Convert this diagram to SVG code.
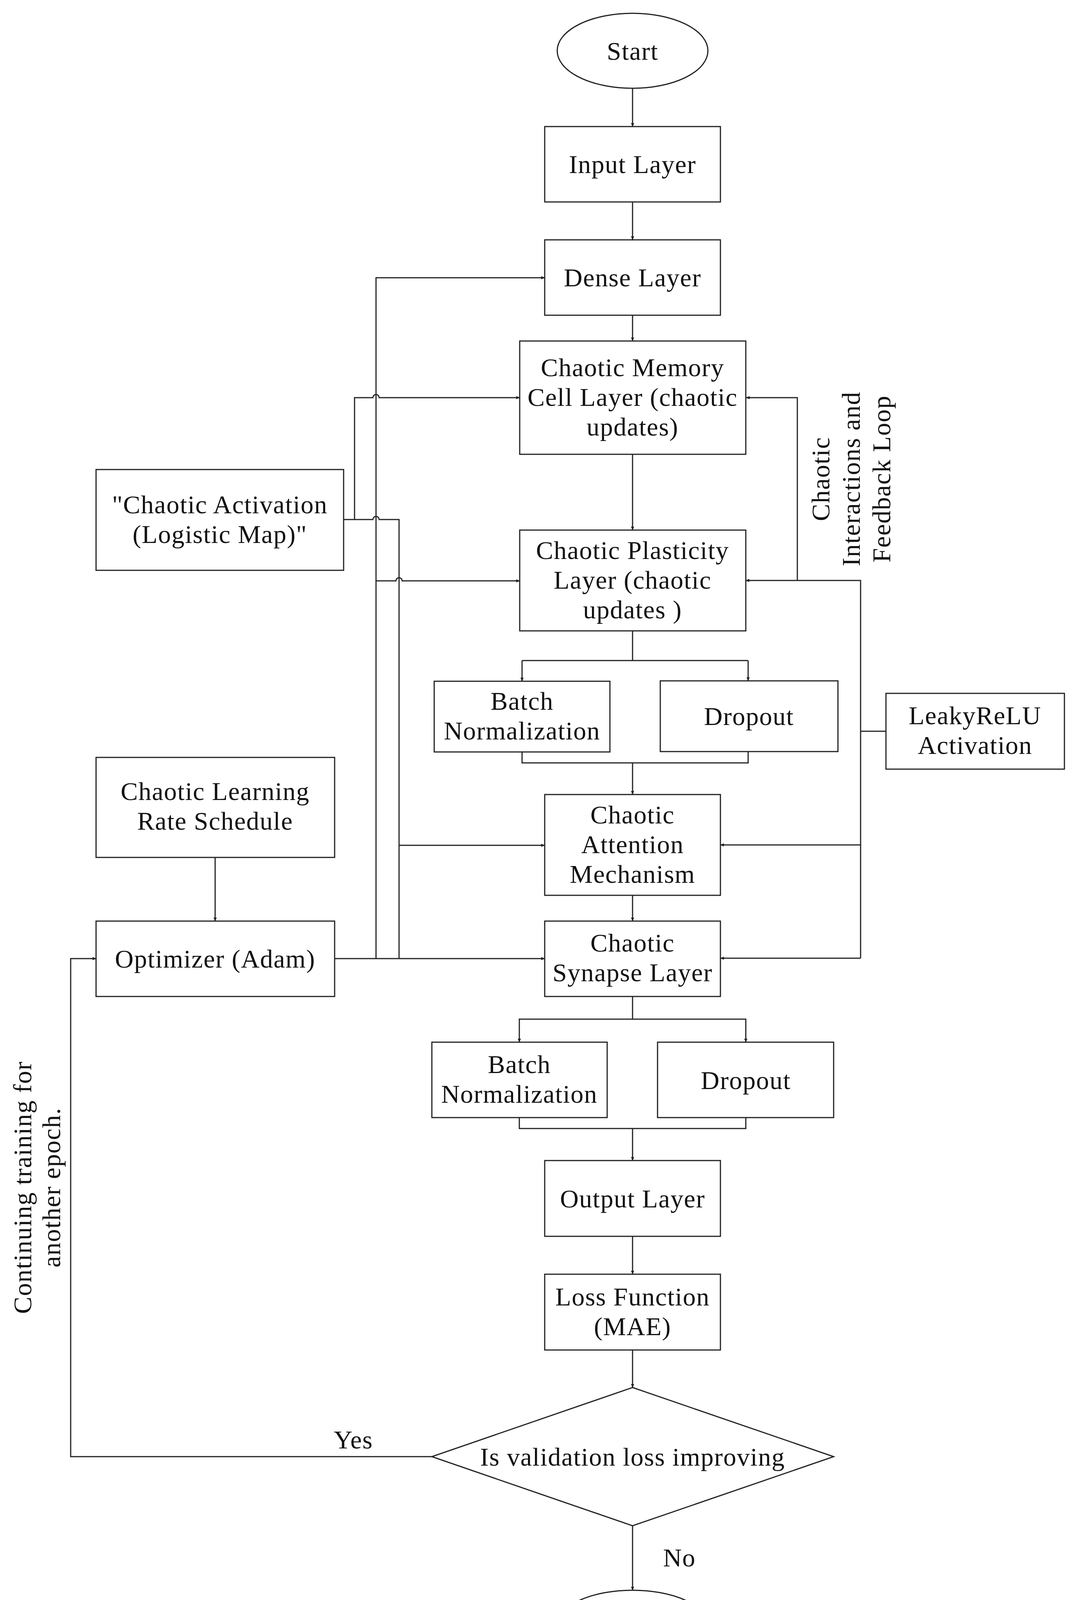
<svg xmlns="http://www.w3.org/2000/svg" width="2748" height="4259" viewBox="0 0 2748 4259">
<style>
.n{fill:#fff;stroke:#222;stroke-width:3}
.c{fill:none;stroke:#222;stroke-width:3}
text{font-family:"Liberation Serif","DejaVu Serif",serif;font-size:66px;letter-spacing:1.5px;fill:#111;text-anchor:middle}
</style>
<defs><marker id="a" markerWidth="10" markerHeight="8" refX="9" refY="4" orient="auto" markerUnits="userSpaceOnUse"><path d="M0,0 L10,4 L0,8 Z" fill="#222"/></marker></defs>
<rect width="2748" height="4259" fill="#fff"/>
<g id="connectors">
<path class="c" d="M1620,226 V324" marker-end="url(#a)"/>
<path class="c" d="M1620,517 V614" marker-end="url(#a)"/>
<path class="c" d="M1620,807 V873" marker-end="url(#a)"/>
<path class="c" d="M1620,1163 V1357" marker-end="url(#a)"/>
<path class="c" d="M1620,1615 V1691 M1337,1691 H1916"/>
<path class="c" d="M1337,1691 V1744" marker-end="url(#a)"/>
<path class="c" d="M1916,1691 V1743" marker-end="url(#a)"/>
<path class="c" d="M1337,1925 V1953 H1916 V1925 M1620,1953 V2034" marker-end="url(#a)"/>
<path class="c" d="M1620,2292 V2358" marker-end="url(#a)"/>
<path class="c" d="M1620,2551 V2609 H1330 V2668" marker-end="url(#a)"/>
<path class="c" d="M1620,2609 H1910 V2668" marker-end="url(#a)"/>
<path class="c" d="M1330,2861 V2889 H1910 V2861 M1620,2889 V2971" marker-end="url(#a)"/>
<path class="c" d="M1620,3165 V3262" marker-end="url(#a)"/>
<path class="c" d="M1620,3456 V3552" marker-end="url(#a)"/>
<path class="c" d="M1620,3906 V4071" marker-end="url(#a)"/>
<path class="c" d="M1106,3729 H181 V2454 H246" marker-end="url(#a)"/>
<path class="c" d="M551,2195 V2358" marker-end="url(#a)"/>
<path class="c" d="M857,2454 H1395" marker-end="url(#a)"/>
<path class="c" d="M963,2454 V711 H1395" marker-end="url(#a)"/>
<path class="c" d="M1022,2454 V1330 H971 A8,8 0 0 0 955,1330 H880"/>
<path class="c" d="M908,1330 V1018 H955 A8,8 0 0 1 971,1018 H1331" marker-end="url(#a)"/>
<path class="c" d="M963,1487 H1014 A8,8 0 0 1 1030,1487 H1331" marker-end="url(#a)"/>
<path class="c" d="M1022,2164 H1395" marker-end="url(#a)"/>
<path class="c" d="M2204,2453 V1486 H1910" marker-end="url(#a)"/>
<path class="c" d="M2042,1486 V1018 H1911" marker-end="url(#a)"/>
<path class="c" d="M2204,2163 H1845" marker-end="url(#a)"/>
<path class="c" d="M2204,2453 H1845" marker-end="url(#a)"/>
<path class="c" d="M2204,1872 H2269"/>
</g>
<g id="start"><ellipse class="n" cx="1620" cy="130" rx="193" ry="96"/><text x="1620" y="153">Start</text></g>
<g id="input"><rect class="n" x="1395" y="324" width="450" height="193"/><text x="1620" y="443">Input Layer</text></g>
<g id="dense"><rect class="n" x="1395" y="614" width="450" height="193"/><text x="1620" y="733">Dense Layer</text></g>
<g id="memory"><rect class="n" x="1331" y="873" width="579" height="290"/><text x="1620" y="963">Chaotic Memory</text><text x="1620" y="1039">Cell Layer (chaotic</text><text x="1620" y="1115">updates)</text></g>
<g id="activation"><rect class="n" x="246" y="1202" width="634" height="258"/><text x="563" y="1314">"Chaotic Activation</text><text x="563" y="1390">(Logistic Map)"</text></g>
<g id="plasticity"><rect class="n" x="1331" y="1357" width="579" height="258"/><text x="1620" y="1431">Chaotic Plasticity</text><text x="1620" y="1507">Layer (chaotic</text><text x="1620" y="1583">updates )</text></g>
<g id="bn1"><rect class="n" x="1112" y="1744" width="450" height="181"/><text x="1337" y="1817">Batch</text><text x="1337" y="1893">Normalization</text></g>
<g id="do1"><rect class="n" x="1691" y="1743" width="455" height="181"/><text x="1918" y="1856">Dropout</text></g>
<g id="leaky"><rect class="n" x="2269" y="1775" width="457" height="194"/><text x="2497" y="1854">LeakyReLU</text><text x="2497" y="1930">Activation</text></g>
<g id="lr"><rect class="n" x="246" y="1939" width="611" height="256"/><text x="551" y="2048">Chaotic Learning</text><text x="551" y="2124">Rate Schedule</text></g>
<g id="attention"><rect class="n" x="1395" y="2034" width="450" height="258"/><text x="1620" y="2108">Chaotic</text><text x="1620" y="2184">Attention</text><text x="1620" y="2260">Mechanism</text></g>
<g id="optimizer"><rect class="n" x="246" y="2358" width="611" height="193"/><text x="551" y="2477">Optimizer (Adam)</text></g>
<g id="synapse"><rect class="n" x="1395" y="2358" width="450" height="193"/><text x="1620" y="2436">Chaotic</text><text x="1620" y="2512">Synapse Layer</text></g>
<g id="bn2"><rect class="n" x="1106" y="2668" width="449" height="193"/><text x="1330" y="2747">Batch</text><text x="1330" y="2823">Normalization</text></g>
<g id="do2"><rect class="n" x="1684" y="2668" width="451" height="193"/><text x="1910" y="2788">Dropout</text></g>
<g id="output"><rect class="n" x="1395" y="2971" width="450" height="194"/><text x="1620" y="3091">Output Layer</text></g>
<g id="loss"><rect class="n" x="1395" y="3262" width="450" height="194"/><text x="1620" y="3342">Loss Function</text><text x="1620" y="3418">(MAE)</text></g>
<g id="decision"><polygon class="n" points="1620,3552 2135,3729 1620,3906 1106,3729"/><text x="1620" y="3752">Is validation loss improving</text></g>
<g id="end"><ellipse class="n" cx="1620" cy="4157" rx="190" ry="86"/><text x="1620" y="4180">End</text></g>
<g id="labels">
<text x="905" y="3708">Yes</text>
<text x="1740" y="4010">No</text>
<text transform="translate(80,3040) rotate(-90)">Continuing training for</text>
<text transform="translate(154,3040) rotate(-90)">another epoch.</text>
<text transform="translate(2124,1226) rotate(-90)">Chaotic</text>
<text transform="translate(2202,1226) rotate(-90)">Interactions and</text>
<text transform="translate(2280,1226) rotate(-90)">Feedback Loop</text>
</g>
</svg>
